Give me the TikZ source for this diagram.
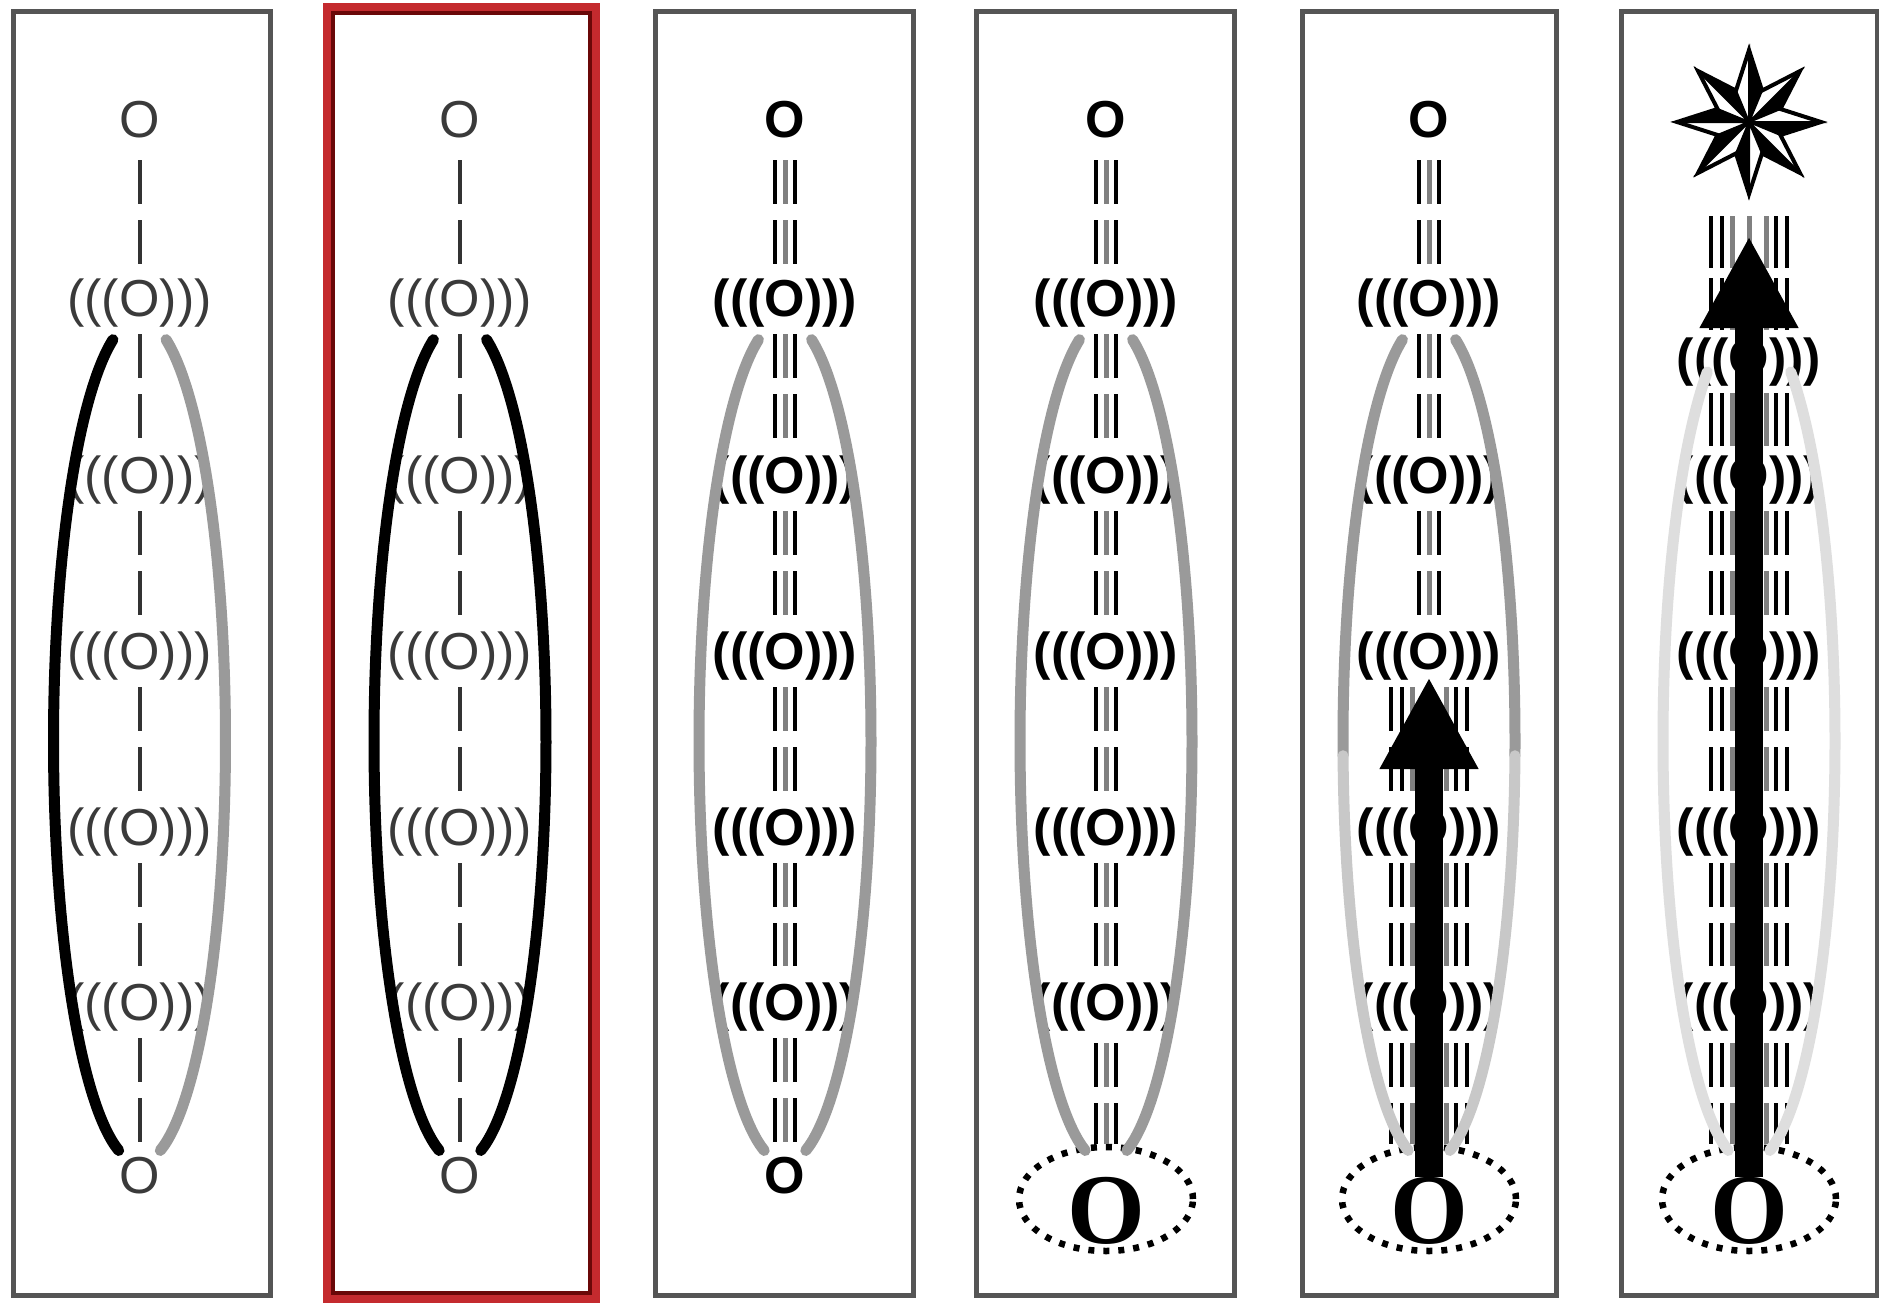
\documentclass[tikz,border=0pt]{standalone}
\usepackage{fontspec}
\setmainfont{Liberation Sans}
\newfontfamily\bigserif{Liberation Serif}
\usetikzlibrary{arrows.meta,shapes.geometric}

\definecolor{framegray}{HTML}{555555}
\definecolor{lblgray}{HTML}{3A3A3A}
\definecolor{dashgray}{HTML}{333333}
\definecolor{hullgray}{HTML}{9A9A9A}
\definecolor{hullpale}{HTML}{C8C8C8}
\definecolor{hullfaint}{HTML}{DEDEDE}
\definecolor{midline}{HTML}{808080}
\definecolor{redband}{HTML}{C42A2E}
\definecolor{reddark}{HTML}{6A0808}

\tikzset{
  panelframe/.style={draw=framegray, line width=5pt},
  thinlbl/.style={font=\fontsize{52pt}{60pt}\selectfont, text=lblgray,
    inner sep=0pt, text height=37pt, text depth=0pt},
  boldlbl/.style={font=\fontsize{52pt}{60pt}\selectfont\bfseries, text=black,
    inner sep=0pt, text height=37pt, text depth=0pt},
  bigglyph/.style={font=\bigserif\fontsize{100pt}{110pt}\selectfont\bfseries,
    text=black, inner sep=0pt, text height=66pt, text depth=0pt},
  thinline/.style={draw=dashgray, line width=4pt, dash pattern=on 44pt off 16pt},
  blkline/.style={draw=black, line width=4.5pt, dash pattern=on 44pt off 16pt},
  gryline/.style={draw=midline, line width=5pt, dash pattern=on 44pt off 16pt},
  hullarc/.style={line width=11pt, line cap=round},
  dotoval/.style={ellipse, draw=black, line width=6.5pt, dash pattern=on 6pt off 9pt,
    minimum width=174pt, minimum height=104pt, inner sep=0pt},
  thrust/.style={draw=black, line width=28pt, line cap=butt,
    -{Triangle[length=92pt,width=92pt]}},
}

% one side of the long hull around the chain (parametric ellipse arc)
\newcommand\hullpart[3]{\draw[hullarc,draw=#1] plot[domain=#2:#3,samples=60,smooth]
  ({86*cos(\x)},{741+422*sin(\x)});}

% three-strand link: black, grey, black
\newcommand\triplink[5][]{%
  \foreach \dx in {-10,10}
    \draw[blkline,#1,shorten <=#4,shorten >=#5] ([xshift=\dx pt]#2) -- ([xshift=\dx pt]#3);
  \draw[gryline,#1,shorten <=#4,shorten >=#5] (#2) -- (#3);}

% widened link: two black strands and a grey strand on each side
\newcommand\widelink[5][]{%
  \foreach \dx in {-17,0,17}
    \draw[gryline,#1,shorten <=#4,shorten >=#5] ([xshift=\dx pt]#2) -- ([xshift=\dx pt]#3);
  \foreach \dx in {-38,-27,27,38}
    \draw[blkline,#1,shorten <=#4,shorten >=#5] ([xshift=\dx pt]#2) -- ([xshift=\dx pt]#3);}

\begin{document}
\begin{tikzpicture}[x=1pt,y=-1pt]
\useasboundingbox (0,0) rectangle (1879,1306);
\fill[white] (0,0) rectangle (1879,1306);

% ---------- frames ----------
\draw[panelframe] (13,12) rectangle (270,1295);
\draw[line width=11pt, draw=redband] (328,9) rectangle (594,1297);
\draw[line width=4pt, draw=reddark] (332.5,13.5) rectangle (589.5,1292.5);
\draw[panelframe] (655,12) rectangle (913,1295);
\draw[panelframe] (976,12) rectangle (1234,1295);
\draw[panelframe] (1302,12) rectangle (1556,1295);
\draw[panelframe] (1621,12) rectangle (1877,1295);

% ---------- panel 1 ----------
\begin{scope}[xshift=139.5pt]
  \node[thinlbl] (p1-top) at (0,119) {O};
  \foreach \i/\y in {1/298,2/475,3/651,4/827,5/1002}
    \node[thinlbl] (p1-r\i) at (0,\y) {(((O)))};
  \node[thinlbl] (p1-bot) at (0,1175) {O};
  \draw[thinline,shorten <=41pt,shorten >=34pt] (p1-top.center) -- (p1-r1.center);
  \foreach \a/\b in {1/2,2/3,3/4,4/5}
    \draw[thinline,shorten <=36pt,shorten >=36pt] (p1-r\a.center) -- (p1-r\b.center);
  \draw[thinline,shorten <=36pt,shorten >=33pt] (p1-r5.center) -- (p1-bot.center);
  \hullpart{black}{104}{252}
  \hullpart{hullgray}{-72}{76}
\end{scope}

% ---------- panel 2 ----------
\begin{scope}[xshift=460pt]
  \node[thinlbl] (p2-top) at (0,119) {O};
  \foreach \i/\y in {1/298,2/475,3/651,4/827,5/1002}
    \node[thinlbl] (p2-r\i) at (0,\y) {(((O)))};
  \node[thinlbl] (p2-bot) at (0,1175) {O};
  \draw[thinline,shorten <=41pt,shorten >=34pt] (p2-top.center) -- (p2-r1.center);
  \foreach \a/\b in {1/2,2/3,3/4,4/5}
    \draw[thinline,shorten <=36pt,shorten >=36pt] (p2-r\a.center) -- (p2-r\b.center);
  \draw[thinline,shorten <=36pt,shorten >=33pt] (p2-r5.center) -- (p2-bot.center);
  \hullpart{black}{104}{252}
  \hullpart{black}{-72}{76}
\end{scope}

% ---------- panel 3 ----------
\begin{scope}[xshift=785pt]
  \node[boldlbl] (p3-top) at (0,119) {O};
  \foreach \i/\y in {1/298,2/475,3/651,4/827,5/1002}
    \node[boldlbl] (p3-r\i) at (0,\y) {(((O)))};
  \node[boldlbl] (p3-bot) at (0,1175) {O};
  \triplink{p3-top.center}{p3-r1.center}{41pt}{34pt}
  \foreach \a/\b in {1/2,2/3,3/4,4/5}
    {\triplink{p3-r\a.center}{p3-r\b.center}{36pt}{36pt}}
  \triplink{p3-r5.center}{p3-bot.center}{36pt}{33pt}
  \hullpart{hullgray}{104}{252}
  \hullpart{hullgray}{-72}{76}
\end{scope}

% ---------- panel 4 ----------
\begin{scope}[xshift=1106pt]
  \node[boldlbl] (p4-top) at (0,119) {O};
  \foreach \i/\y in {1/298,2/475,3/651,4/827,5/1002}
    \node[boldlbl] (p4-r\i) at (0,\y) {(((O)))};
  \node[dotoval] (p4-base) at (0,1199) {};
  \node[bigglyph] (p4-O) at (0,1210) {O};
  \triplink{p4-top.center}{p4-r1.center}{41pt}{34pt}
  \foreach \a/\b in {1/2,2/3,3/4,4/5}
    {\triplink{p4-r\a.center}{p4-r\b.center}{36pt}{36pt}}
  \triplink{p4-r5.center}{p4-base.north}{41pt}{0pt}
  \hullpart{hullgray}{104}{252}
  \hullpart{hullgray}{-72}{76}
\end{scope}

% ---------- panel 5 ----------
\begin{scope}[xshift=1429pt]
  \node[boldlbl] (p5-top) at (0,119) {O};
  \foreach \i/\y in {1/298,2/475,3/651,4/827,5/1002}
    \node[boldlbl] (p5-r\i) at (0,\y) {(((O)))};
  \node[dotoval] (p5-base) at (0,1199) {};
  \node[bigglyph] (p5-O) at (0,1210) {O};
  \coordinate (p5-tip) at (0,677);
  \triplink{p5-top.center}{p5-r1.center}{41pt}{34pt}
  \triplink{p5-r1.center}{p5-r2.center}{36pt}{36pt}
  \triplink{p5-r2.center}{p5-r3.center}{36pt}{36pt}
  \widelink{p5-r3.center}{p5-r4.center}{36pt}{36pt}
  \widelink{p5-r4.center}{p5-r5.center}{36pt}{36pt}
  \widelink{p5-r5.center}{p5-base.north}{41pt}{0pt}
  \hullpart{hullgray}{178}{252}
  \hullpart{hullpale}{104}{178}
  \hullpart{hullgray}{-72}{2}
  \hullpart{hullpale}{2}{76}
  \draw[thrust] (p5-O.north) -- (p5-tip);
\end{scope}

% ---------- panel 6 ----------
\begin{scope}[xshift=1749pt]
  \coordinate (p6-star) at (0,122);
  \begin{scope}[shift={(0,122)}]
    \foreach \a in {0,45,...,315} {
      \fill[black] (0,0) -- (\a:72) -- ({\a+22.5}:34) -- cycle;
      \filldraw[fill=white,draw=black,line width=2pt] (0,0) -- (\a:72) -- ({\a-22.5}:34) -- cycle;
    }
    \draw[line width=4pt,line join=miter] (0:72)
      \foreach \a in {0,45,...,315} { -- (\a:72) -- ({\a+22.5}:34) } -- cycle;
  \end{scope}
  \foreach \i/\y in {1/357,2/475,3/651,4/827,5/1002}
    \node[boldlbl] (p6-r\i) at (0,\y) {(((O)))};
  \node[dotoval] (p6-base) at (0,1199) {};
  \node[bigglyph] (p6-O) at (0,1210) {O};
  \coordinate (p6-tip) at (0,236);
  \widelink[dash pattern=on 52pt off 10pt]{p6-star}{p6-r1.center}{94pt}{27pt}
  \widelink[dash pattern=on 55pt off 10pt]{p6-r1.center}{p6-r2.center}{36pt}{29pt}
  \widelink{p6-r2.center}{p6-r3.center}{36pt}{36pt}
  \widelink{p6-r3.center}{p6-r4.center}{36pt}{36pt}
  \widelink{p6-r4.center}{p6-r5.center}{36pt}{36pt}
  \widelink{p6-r5.center}{p6-base.north}{41pt}{0pt}
  \hullpart{hullfaint}{104}{241}
  \hullpart{hullfaint}{-61}{76}
  \draw[thrust] (p6-O.north) -- (p6-tip);
\end{scope}
\end{tikzpicture}
\end{document}
